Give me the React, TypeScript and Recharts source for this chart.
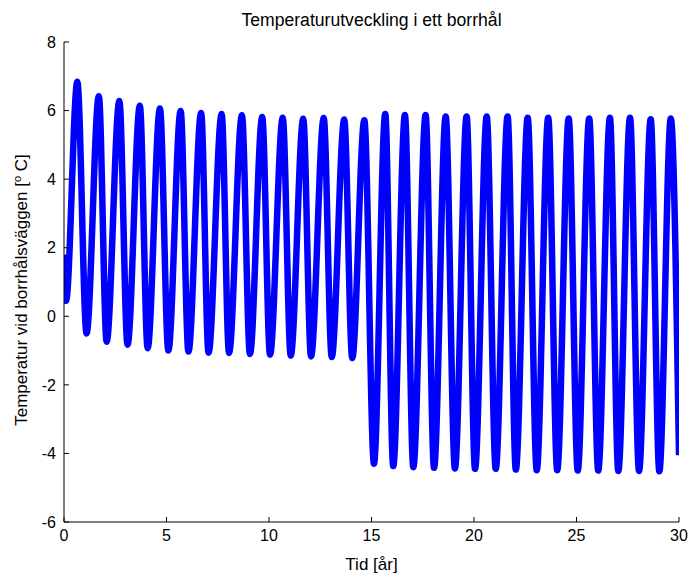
import React from 'react';
import { LineChart, Line, XAxis, YAxis } from 'recharts';

// Start and end of the record
const startYear = 0;
const startTemp = 1.8;
const endYear = 30;
const endTemp = -4.05;

// Annual minima (year, °C)
const troughYears = [0.1, 1.1, 2.08, 3.1, 4.08, 5.09, 6.07, 7.05, 8.05, 9.07, 10.05, 11.06, 12.05, 13.06, 14.06, 15.12, 16.06, 17.04, 18.05, 19.07, 20.05, 21.06, 22.04, 23.06, 24.06, 25.06, 26.06, 27.04, 28.05, 29.04];
const troughTemps = [0.45, -0.5, -0.74, -0.83, -0.93, -1.0, -1.03, -1.06, -1.07, -1.1, -1.12, -1.15, -1.17, -1.19, -1.22, -4.3, -4.37, -4.4, -4.42, -4.44, -4.45, -4.45, -4.47, -4.49, -4.49, -4.5, -4.5, -4.51, -4.51, -4.52];

// Annual maxima (year, °C)
const peakYears = [0.65, 1.7, 2.7, 3.7, 4.68, 5.69, 6.69, 7.69, 8.68, 9.67, 10.67, 11.67, 12.67, 13.67, 14.65, 15.67, 16.63, 17.64, 18.62, 19.64, 20.62, 21.64, 22.62, 23.62, 24.62, 25.62, 26.63, 27.61, 28.62, 29.6];
const peakTemps = [6.84, 6.42, 6.28, 6.14, 6.06, 5.99, 5.93, 5.9, 5.86, 5.81, 5.79, 5.76, 5.78, 5.74, 5.72, 5.9, 5.87, 5.87, 5.83, 5.83, 5.83, 5.83, 5.79, 5.79, 5.77, 5.77, 5.79, 5.79, 5.75, 5.77];

const xTicks = [0, 5, 10, 15, 20, 25, 30];
const yTicks = [-6, -4, -2, 0, 2, 4, 6, 8];

const title = 'Temperaturutveckling i ett borrhål';
const xLabel = 'Tid [år]';
const yLabelMain = 'Temperatur vid borrhålsväggen [';
const yLabelSup = 'o';
const yLabelEnd = ' C]';

const data: { t: number; v: number }[] = [{ t: startYear, v: startTemp }];
for (let i = 0; i < troughYears.length; i++) {
  data.push({ t: troughYears[i], v: troughTemps[i] });
  data.push({ t: peakYears[i], v: peakTemps[i] });
}
data.push({ t: endYear, v: endTemp });

const FONT = '"Liberation Sans", Arial, sans-serif';
const tickStyle = { fill: '#000', fontSize: 16, fontFamily: FONT };

export default function App() {
  return (
    <div style={{ position: 'absolute', left: 0, top: 0, width: 689, height: 577, background: '#fff' }}>
      <div
        style={{
          position: 'absolute',
          left: 64,
          width: 615,
          top: 9,
          textAlign: 'center',
          fontFamily: FONT,
          fontSize: 17.6,
          color: '#000',
          lineHeight: '22px',
        }}
      >
        {title}
      </div>
      <LineChart width={689} height={577} data={data} margin={{ top: 42, right: 10, bottom: 0, left: 0 }}>
        <XAxis
          dataKey="t"
          type="number"
          domain={[0, 30]}
          ticks={xTicks}
          allowDataOverflow
          height={55}
          tickSize={-5}
          tickMargin={13}
          stroke="#000"
          tick={tickStyle}
          interval={0}
          label={{
            content: (props: any) => {
              const vb = props.viewBox || {};
              return (
                <text x={vb.x + vb.width / 2} y={vb.y + 48} textAnchor="middle" fontFamily={FONT} fontSize={17} fill="#000">
                  {xLabel}
                </text>
              );
            },
          }}
        />
        <XAxis
          xAxisId="top"
          orientation="top"
          type="number"
          domain={[0, 30]}
          ticks={xTicks}
          allowDataOverflow
          height={0}
          tickSize={-5}
          tickFormatter={() => ''}
          stroke="#000"
          interval={0}
        />
        <YAxis
          type="number"
          domain={[-6, 8]}
          ticks={yTicks}
          allowDataOverflow
          width={64}
          tickSize={-5}
          tickMargin={13}
          stroke="#000"
          tick={tickStyle}
          interval={0}
          label={{
            content: (props: any) => {
              const vb = props.viewBox || {};
              const cx = 27;
              const cy = vb.y + vb.height / 2 + 8;
              return (
                <text
                  x={cx}
                  y={cy}
                  textAnchor="middle"
                  fontFamily={FONT}
                  fontSize={17}
                  fill="#000"
                  transform={`rotate(-90 ${cx} ${cy})`}
                >
                  {yLabelMain}
                  <tspan fontSize={11} dy={-6}>{yLabelSup}</tspan>
                  <tspan dy={6}>{yLabelEnd}</tspan>
                </text>
              );
            },
          }}
        />
        <YAxis
          yAxisId="right"
          orientation="right"
          type="number"
          domain={[-6, 8]}
          ticks={yTicks}
          allowDataOverflow
          width={0}
          tickSize={-5}
          tickFormatter={() => ''}
          stroke="#000"
          interval={0}
        />
        <Line
          type="monotone"
          dataKey="v"
          stroke="#0000FF"
          strokeWidth={6.5}
          dot={false}
          isAnimationActive={false}
        />
      </LineChart>
    </div>
  );
}
